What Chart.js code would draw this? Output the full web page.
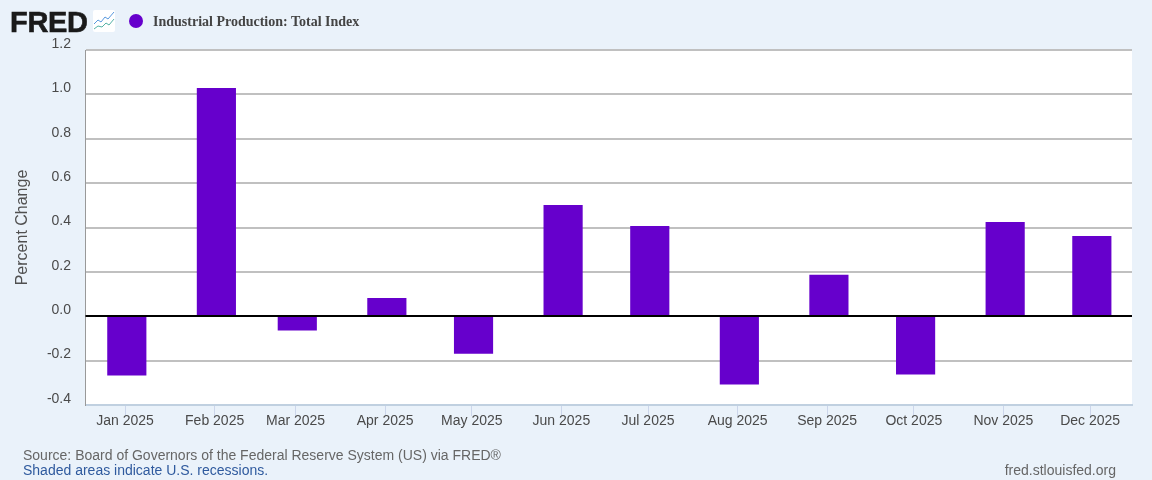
<!DOCTYPE html>
<html>
<head>
<meta charset="utf-8">
<title>Industrial Production: Total Index</title>
<script src="https://cdn.jsdelivr.net/npm/chart.js@4"></script>
<style>
  html, body { margin: 0; padding: 0; background: #eaf2fa; overflow: hidden; }
  #wrap { position: relative; width: 1152px; height: 480px; font-family: "Liberation Sans", Arial, sans-serif; }
  canvas { position: absolute; left: 0; top: 0; }
  .txt { position: absolute; white-space: nowrap; }
  #logo { left: 10px; top: 4px; font-size: 29px; line-height: 36px; font-weight: bold; color: #1a1a1a; letter-spacing: -0.3px; -webkit-text-stroke: 0.6px #1a1a1a; }
  #icon { position: absolute; left: 93px; top: 10px; }
  #dot { position: absolute; left: 128.5px; top: 13.5px; width: 14px; height: 14px; border-radius: 50%; background: #6600cc; }
  #series { left: 153px; top: 14px; font: bold 14px/16px "Liberation Serif", serif; color: #444; }
  .foot { font-size: 14px; line-height: 16px; color: #666; }
</style>
</head>
<body>
<div id="wrap">
  <canvas id="chart" width="1152" height="480"></canvas>
  <div class="txt" id="logo">FRED</div>
  <svg id="icon" width="22" height="22" viewBox="0 0 22 22">
    <rect width="22" height="22" rx="2" fill="#fff"/>
    <polyline points="1,14 5,10 8,12 12,7 15,9 21,2" fill="none" stroke="#2f7fd6" stroke-width="0.8"/>
    <polyline points="1,19 5,16 9,17 13,13 16,15 21,9" fill="none" stroke="#2a9d8f" stroke-width="0.8"/>
  </svg>
  <div id="dot"></div>
  <div class="txt" id="series">Industrial Production: Total Index</div>
  <div class="txt foot" style="left:23px;top:447px">Source: Board of Governors of the Federal Reserve System (US) via FRED®</div>
  <div class="txt foot" style="left:23px;top:462px;color:#2f5a9e">Shaded areas indicate U.S. recessions.</div>
  <div class="txt foot" style="right:36px;top:462px">fred.stlouisfed.org</div>
</div>
<script>
// Monthly percent change
const months = ['Jan 2025', 'Feb 2025', 'Mar 2025', 'Apr 2025', 'May 2025', 'Jun 2025',
  'Jul 2025', 'Aug 2025', 'Sep 2025', 'Oct 2025', 'Nov 2025', 'Dec 2025'];
const monthStarts = [0, 31, 59, 90, 120, 151, 181, 212, 243, 273, 304, 334];
const values = [-0.266, 1.027, -0.063, 0.081, -0.167, 0.5, 0.405, -0.306, 0.185, -0.261, 0.423, 0.36];
const yTicks = [-0.4, -0.2, 0, 0.2, 0.4, 0.6, 0.8, 1.0, 1.2];

// white plot area, and the black zero line that sits on top of the bars
const plotExtras = {
    id: 'plotExtras',
    beforeDraw(chart) {
        const a = chart.chartArea;
        chart.ctx.fillStyle = '#ffffff';
        chart.ctx.fillRect(a.left, a.top, a.right - a.left, a.bottom - a.top);
    },
    afterDatasetsDraw(chart) {
        const a = chart.chartArea;
        const y = chart.scales.y.getPixelForValue(0);
        chart.ctx.fillStyle = '#000000';
        chart.ctx.fillRect(a.left, Math.round(y) - 1, a.right - a.left, 2);
    },
};

const ctx = document.getElementById('chart').getContext('2d');
new Chart(ctx, {
    type: 'bar',
    data: {
        datasets: [
            {
                label: 'Industrial Production: Total Index',
                data: months.map((m, i) => ({ x: monthStarts[i] + 0.6, y: values[i] })),
                backgroundColor: '#6600cc',
                barThickness: 38.5,
            },
        ],
    },
    plugins: [plotExtras],
    options: {
        responsive: false,
        animation: false,
        devicePixelRatio: 1,
        layout: { padding: { top: 50, right: 20, left: 0, bottom: 0 } },
        plugins: {
            legend: { display: false },
            tooltip: { enabled: false },
        },
        scales: {
            x: {
                type: 'linear',
                offset: false,
                min: -13.7,
                max: 348.5,
                afterBuildTicks: (axis) => { axis.ticks = monthStarts.map(v => ({ value: v })); },
                afterFit: (axis) => { axis.height = 75; },
                ticks: {
                    autoSkip: false,
                    maxRotation: 0,
                    padding: -3,
                    color: '#4a4a4a',
                    font: { family: '"Liberation Sans", Arial, sans-serif', size: 14 },
                    callback: (v) => months[monthStarts.indexOf(v)],
                },
                grid: { offset: false, drawOnChartArea: false, tickLength: 11, tickColor: '#ccd6eb', tickWidth: 1 },
                border: { color: '#c0d0e0', width: 2 },
            },
            y: {
                type: 'linear',
                min: -0.4,
                max: 1.2,
                afterBuildTicks: (axis) => { axis.ticks = yTicks.map(v => ({ value: v })); },
                afterFit: (axis) => { axis.width = 85.5; },
                ticks: {
                    padding: 14.5,
                    color: '#4a4a4a',
                    font: { family: '"Liberation Sans", Arial, sans-serif', size: 14, lineHeight: '12px' },
                    // blank second line lifts the label 6px above its grid line, as in FRED
                    callback: (v) => [v.toFixed(1), ''],
                },
                grid: { color: '#c0c0c0', lineWidth: 2, drawTicks: false },
                border: { color: '#999999', width: 1 },
                title: {
                    display: true,
                    text: 'Percent Change',
                    color: '#505050',
                    padding: { top: 13.4, bottom: 0 },
                    font: { family: '"Liberation Sans", Arial, sans-serif', size: 16, lineHeight: 1.2 },
                },
            },
        },
    },
});
</script>
</body>
</html>
